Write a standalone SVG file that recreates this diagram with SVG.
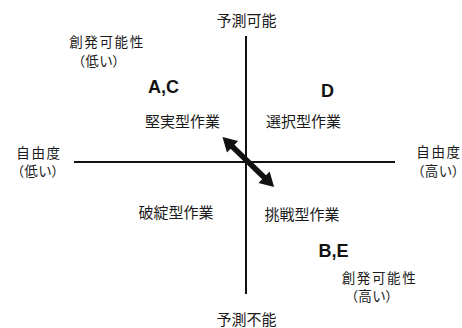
<svg xmlns="http://www.w3.org/2000/svg" width="462" height="328" viewBox="0 0 462 328">
<style>
.jp{font-family:"Noto Sans CJK JP","Noto Sans CJK SC",sans-serif;font-size:15px;fill:#1a1a1a;text-anchor:middle}
.sm{font-size:13.5px;letter-spacing:1.6px}
.pa{font-feature-settings:"palt";letter-spacing:0.5px}
.lt{font-family:"Liberation Sans","Open Sans",sans-serif;font-size:18px;font-weight:bold;fill:#111;text-anchor:middle}
.ax{stroke:#111;stroke-width:2;fill:none}
</style>
<rect width="462" height="328" fill="#fff"/>
<g id="connectors">
<line class="ax" x1="246" y1="36" x2="246" y2="294"/>
<line class="ax" x1="74" y1="162" x2="395" y2="162"/>
<g transform="translate(248.3,162) rotate(44.2)">
<polygon points="-36,0 -22,-8 -22,-2.8 22,-2.8 22,-8 36,0 22,8 22,2.8 -22,2.8 -22,8" fill="#111"/>
</g>
</g>
<g id="top"><text class="jp" x="246.5" y="25.5">予測可能</text></g>
<g id="bottom"><text class="jp" x="246.5" y="325">予測不能</text></g>
<g id="left"><text class="jp sm" x="39" y="158">自由度</text><text class="jp sm pa" x="38" y="176">（低い）</text></g>
<g id="right"><text class="jp sm" x="439" y="156.5">自由度</text><text class="jp sm pa" x="438.5" y="175.5">（高い）</text></g>
<g id="creat-low"><text class="jp sm" x="107" y="46.5">創発可能性</text><text class="jp sm pa" x="99" y="65.5">（低い）</text></g>
<g id="creat-high"><text class="jp sm" x="379.5" y="282.5">創発可能性</text><text class="jp sm pa" x="372" y="301">（高い）</text></g>
<g id="q-tl"><text class="lt" x="163.5" y="93">A,C</text><text class="jp" x="182.5" y="127">堅実型作業</text></g>
<g id="q-tr"><text class="lt" x="327.5" y="96.5">D</text><text class="jp" x="303.5" y="127">選択型作業</text></g>
<g id="q-bl"><text class="jp" x="176" y="218">破綻型作業</text></g>
<g id="q-br"><text class="jp" x="302" y="219.5">挑戦型作業</text><text class="lt" x="333.5" y="257">B,E</text></g>
</svg>
